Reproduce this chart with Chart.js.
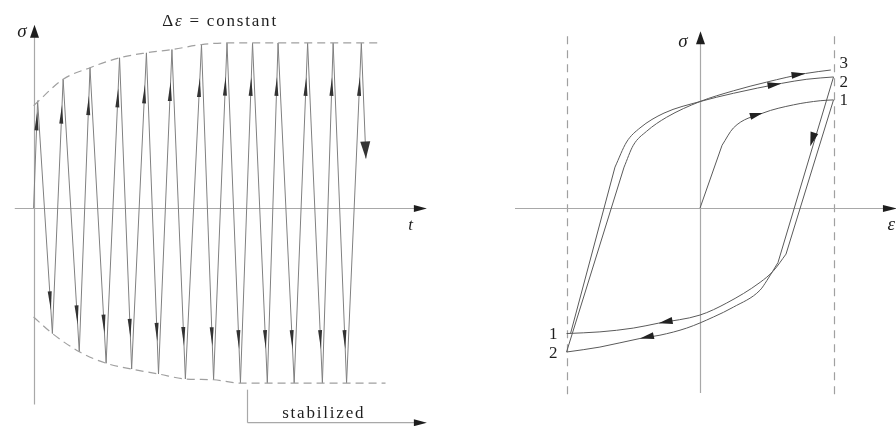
<!DOCTYPE html>
<html>
<head>
<meta charset="utf-8">
<script src="https://cdn.jsdelivr.net/npm/chart.js@4/dist/chart.umd.min.js"></script>
<style>
  html, body { margin: 0; background: #fff; }
  #wrap { position: relative; width: 896px; height: 426px; overflow: hidden; }
  canvas { position: absolute; top: 0; }
  #cycleChart { left: 0; }
  #loopChart { left: 450px; }
</style>
</head>
<body>
<div id="wrap">
  <canvas id="cycleChart" width="450" height="426"></canvas>
  <canvas id="loopChart" width="446" height="426"></canvas>
</div>
<script>
// stress peaks / troughs over time (cycles), strain range held constant
const peakTimes    = [0.15, 1.1, 2.1, 3.2, 4.2, 5.15, 6.25, 7.2, 8.15, 9.1, 10.2, 11.15, 12.2];
const peakStress   = [65, 78, 85, 91, 94, 96, 99, 100, 100, 100, 100, 100, 100];
const troughTimes  = [0.7, 1.7, 2.7, 3.65, 4.65, 5.65, 6.7, 7.7, 8.7, 9.7, 10.75, 11.65];
const troughStress = [-76, -87, -94, -97.5, -100.5, -103.5, -104, -106, -106, -106, -106, -106];
const endTime = 12.37;
const endStress = 30;

// dashed envelopes of the peaks
const upperEnvTime   = [0, 1.1, 2.1, 3.2, 4.2, 5.15, 6.25, 7.2, 12.8];
const upperEnvStress = [62, 78, 85, 91, 94, 96, 99, 100, 100];
const lowerEnvTime   = [0, 0.7, 1.7, 2.7, 3.65, 4.65, 5.65, 6.7, 7.7, 13.1];
const lowerEnvStress = [-66, -76, -87, -94, -97.5, -100.5, -103.5, -104, -106, -106];
const stableFrom = 7.94;

// hysteresis loops (strain normalised to the +/- strain limit)
// each branch = straight elastic part + curved plastic part
const initLineStrain    = [0, 0.165];
const initLineStress    = [0, 38];
const initCurveStrain   = [0.165, 0.25, 0.47, 0.7, 0.9, 1.0];
const initCurveStress   = [38, 48.5, 57.5, 62.5, 65, 65.5];

const unload1LineStrain  = [1.0, 0.644];
const unload1LineStress  = [65.5, -27.9];
const unload1CurveStrain = [0.644, 0.55, 0.45, 0.2, 0, -0.31, -0.5, -0.75, -1.0];
const unload1CurveStress = [-27.9, -38, -45, -57.5, -64.8, -69.7, -72.7, -75, -76];

const reload1LineStrain  = [-0.97, -0.637];
const reload1LineStress  = [-76, 24.8];
const reload1CurveStrain = [-0.637, -0.55, -0.45, -0.27, 0, 0.25, 0.61, 0.8, 1.0];
const reload1CurveStress = [24.8, 40, 48.5, 57.5, 64.5, 69.5, 75.5, 78, 79.4];

const unload2LineStrain  = [1.0, 0.584];
const unload2LineStress  = [79.4, -33];
const unload2CurveStrain = [0.584, 0.5, 0.45, 0.25, 0.1, -0.1, -0.3, -0.45, -0.75, -1.0];
const unload2CurveStress = [-33, -44, -49.7, -60, -66, -72.7, -77, -79, -84.2, -87.2];

const reload2LineStrain  = [-1.0, -0.569];
const reload2LineStress  = [-87.2, 24.8];
const reload2CurveStrain = [-0.569, -0.5, -0.4, -0.25, 0, 0.25, 0.5, 0.79, 0.98];
const reload2CurveStress = [24.8, 38, 46.5, 55, 64.5, 71, 76.3, 81.5, 83.6];

const strainLimits = [-1, 1];
const topLabels = ['1', '2', '3'];
const bottomLabels = ['1', '2'];

const LINE = '#808080';
const LOOP = '#5a5a5a';
const AXIS = '#a8a8a8';
const DASH = '#a0a0a0';
const INK = '#1e1e1e';
const SERIF = '"Liberation Serif", "DejaVu Serif", serif';

const pairs = (xs, ys) => xs.map((v, i) => ({ x: v, y: ys[i] }));
const last = arr => arr[arr.length - 1];

function arrowHead(ctx, x, y, ang, len, half, color) {
  ctx.save();
  ctx.translate(x, y);
  ctx.rotate(ang);
  ctx.beginPath();
  ctx.moveTo(0, 0);
  ctx.lineTo(-len, -half);
  ctx.lineTo(-len, half);
  ctx.closePath();
  ctx.fillStyle = color || INK;
  ctx.fill();
  ctx.restore();
}

function seg(ctx, x1, y1, x2, y2) {
  ctx.beginPath();
  ctx.moveTo(x1, y1);
  ctx.lineTo(x2, y2);
  ctx.stroke();
}

// arrowheads along datasets: [index, fraction toward next point, length, half width, dx, dy]
function pathArrows(chart) {
  const ctx = chart.ctx;
  chart.data.datasets.forEach((ds, di) => {
    if (!ds.arrows) return;
    const pts = chart.getDatasetMeta(di).data;
    ds.arrows.forEach(([i, f, len, half, dx, dy]) => {
      const a = pts[i], b = pts[i + 1];
      const px = a.x + (b.x - a.x) * f + (dx || 0);
      const py = a.y + (b.y - a.y) * f + (dy || 0);
      arrowHead(ctx, px, py, Math.atan2(b.y - a.y, b.x - a.x), len, half, ds.arrowColor);
    });
  });
}

function text(ctx, str, x, y, font, align, spacing) {
  ctx.font = font;
  ctx.textAlign = align || 'left';
  ctx.textBaseline = 'alphabetic';
  ctx.fillStyle = INK;
  ctx.letterSpacing = (spacing || 0) + 'px';
  ctx.fillText(str, x, y);
  ctx.letterSpacing = '0px';
}

const bareScales = (xmin, xmax) => ({
  x: { type: 'linear', display: false, min: xmin, max: xmax },
  y: { type: 'linear', display: false, min: -132, max: 126 }
});

const baseOptions = {
  responsive: false,
  animation: false,
  layout: { padding: 0 },
  plugins: { legend: { display: false }, tooltip: { enabled: false } },
  elements: { point: { radius: 0 } }
};

// ---- stress vs time ----
const wave = [{ x: 0, y: 0 }];
peakTimes.forEach((t, i) => {
  wave.push({ x: t, y: peakStress[i] });
  if (i < troughTimes.length) wave.push({ x: troughTimes[i], y: troughStress[i] });
});
wave.push({ x: endTime, y: endStress });

const waveArrows = wave.slice(0, -2).map((_, i) => [i, 0.9, 19, 2]);
waveArrows.push([wave.length - 2, 1, 17, 5]);

const cycleDecor = {
  id: 'cycleDecor',
  beforeDatasetsDraw(chart) {
    const { ctx, scales: { x, y } } = chart;
    ctx.save();
    ctx.strokeStyle = AXIS;
    ctx.lineWidth = 1.2;
    const x0 = Math.round(x.getPixelForValue(0)) + 0.5;
    const y0 = Math.round(y.getPixelForValue(0)) + 0.5;
    seg(ctx, x0, y.getPixelForValue(-119), x0, y.getPixelForValue(105));
    seg(ctx, x.getPixelForValue(-0.7), y0, x.getPixelForValue(14.2), y0);
    // stabilized bracket
    const xs = Math.round(x.getPixelForValue(stableFrom)) + 0.5;
    seg(ctx, xs, y.getPixelForValue(-110), xs, y.getPixelForValue(-130));
    seg(ctx, xs, y.getPixelForValue(-130), x.getPixelForValue(14.2), y.getPixelForValue(-130));
    ctx.restore();
  },
  afterDatasetsDraw(chart) {
    const { ctx, scales: { x, y } } = chart;
    pathArrows(chart);
    const x0 = Math.round(x.getPixelForValue(0)) + 0.5;
    const y0 = Math.round(y.getPixelForValue(0)) + 0.5;
    arrowHead(ctx, x0, y.getPixelForValue(111), -Math.PI / 2, 13, 4.5);
    arrowHead(ctx, x.getPixelForValue(14.64), y0, 0, 13, 3.5);
    arrowHead(ctx, x.getPixelForValue(14.64), y.getPixelForValue(-130), 0, 13, 3.5);

    text(ctx, '\u03c3', x0 - 8, y.getPixelForValue(103.5), 'italic 19px ' + SERIF, 'right');
    text(ctx, 't', x.getPixelForValue(13.95), y.getPixelForValue(-13.5), 'italic 17px ' + SERIF, 'left');

    // title: Δε = constant
    ctx.font = '17px ' + SERIF;
    ctx.letterSpacing = '1.8px';
    const wD = ctx.measureText('\u0394').width;
    const wRest = ctx.measureText(' = constant').width;
    ctx.font = 'italic 17px ' + SERIF;
    const wE = ctx.measureText('\u03b5').width;
    ctx.letterSpacing = '0px';
    const left = x.getPixelForValue(6.94) - (wD + wE + wRest) / 2;
    const base = y.getPixelForValue(110.5);
    text(ctx, '\u0394', left, base, '17px ' + SERIF, 'left', 1.8);
    text(ctx, '\u03b5', left + wD, base, 'italic 17px ' + SERIF, 'left', 1.8);
    text(ctx, ' = constant', left + wD + wE, base, '17px ' + SERIF, 'left', 1.8);

    text(ctx, 'stabilized', x.getPixelForValue(10.8), y.getPixelForValue(-127), '17px ' + SERIF, 'center', 1.8);
  }
};

new Chart(document.getElementById('cycleChart'), {
  type: 'scatter',
  data: {
    datasets: [
      {
        data: pairs(upperEnvTime, upperEnvStress), showLine: true,
        borderColor: DASH, borderWidth: 1.2, borderDash: [8, 5], cubicInterpolationMode: 'monotone'
      },
      {
        data: pairs(lowerEnvTime, lowerEnvStress), showLine: true,
        borderColor: DASH, borderWidth: 1.2, borderDash: [8, 5], cubicInterpolationMode: 'monotone'
      },
      {
        data: wave, showLine: true, borderColor: LINE, borderWidth: 1, tension: 0,
        arrows: waveArrows, arrowColor: '#333'
      }
    ]
  },
  options: { ...baseOptions, scales: bareScales(-1.25, 15.5) },
  plugins: [cycleDecor]
});

// ---- stress vs strain ----
const loopDecor = {
  id: 'loopDecor',
  beforeDatasetsDraw(chart) {
    const { ctx, scales: { x, y } } = chart;
    ctx.save();
    ctx.lineWidth = 1.2;
    ctx.strokeStyle = DASH;
    ctx.setLineDash([8, 6]);
    strainLimits.forEach(e => {
      const px = Math.round(x.getPixelForValue(e)) + 0.5;
      seg(ctx, px, y.getPixelForValue(104), px, y.getPixelForValue(-116));
    });
    ctx.setLineDash([]);
    ctx.strokeStyle = AXIS;
    const x0 = Math.round(x.getPixelForValue(0)) + 0.5;
    const y0 = Math.round(y.getPixelForValue(0)) + 0.5;
    seg(ctx, x0, y.getPixelForValue(-112), x0, y.getPixelForValue(100));
    seg(ctx, x.getPixelForValue(-1.386), y0, x.getPixelForValue(1.4), y0);
    ctx.restore();
  },
  afterDatasetsDraw(chart) {
    const { ctx, scales: { x, y } } = chart;
    pathArrows(chart);
    const x0 = Math.round(x.getPixelForValue(0)) + 0.5;
    const y0 = Math.round(y.getPixelForValue(0)) + 0.5;
    arrowHead(ctx, x0, y.getPixelForValue(107), -Math.PI / 2, 13, 4.5);
    arrowHead(ctx, x.getPixelForValue(1.475), y0, 0, 14, 3.5);

    text(ctx, '\u03c3', x0 - 13, y.getPixelForValue(97.5), 'italic 19px ' + SERIF, 'right');
    text(ctx, '\u03b5', x.getPixelForValue(1.405), y.getPixelForValue(-13.5), 'italic 19px ' + SERIF, 'left');

    // cycle numbers at the strain limits
    const tops = [last(initCurveStress), last(reload1CurveStress), last(reload2CurveStress)];
    const topShift = [5, 10, -2];
    const xr = x.getPixelForValue(strainLimits[1]) + 6;
    tops.forEach((s, i) => {
      text(ctx, topLabels[i], xr, y.getPixelForValue(s) + topShift[i], '17px ' + SERIF, 'left');
    });
    const bots = [last(unload1CurveStress), last(unload2CurveStress)];
    const xl = x.getPixelForValue(strainLimits[0]) - 9;
    bots.forEach((s, i) => {
      text(ctx, bottomLabels[i], xl, y.getPixelForValue(s) + 5 + i, '17px ' + SERIF, 'right');
    });
  }
};

const straight = (xs, ys, arrows) => ({
  data: pairs(xs, ys), showLine: true, borderColor: LOOP, borderWidth: 1,
  tension: 0, arrows: arrows, arrowColor: '#222'
});
const curve = (xs, ys, arrows) => ({
  data: pairs(xs, ys), showLine: true, borderColor: LOOP, borderWidth: 1,
  cubicInterpolationMode: 'monotone', arrows: arrows, arrowColor: '#222'
});

new Chart(document.getElementById('loopChart'), {
  type: 'scatter',
  data: {
    datasets: [
      straight(initLineStrain, initLineStress),
      curve(initCurveStrain, initCurveStress, [[2, 0, 13, 3.5]]),
      straight(unload1LineStrain, unload1LineStress, [[0, 0.3, 14, 4, -9, 0]]),
      curve(unload1CurveStrain, unload1CurveStress, [[5, 0, 14, 3.5]]),
      straight(reload1LineStrain, reload1LineStress),
      curve(reload1CurveStrain, reload1CurveStress, [[6, 0, 14, 3.5]]),
      straight(unload2LineStrain, unload2LineStress),
      curve(unload2CurveStrain, unload2CurveStress, [[7, 0, 14, 3.5]]),
      straight(reload2LineStrain, reload2LineStress),
      curve(reload2CurveStrain, reload2CurveStress, [[7, 0, 14, 3.5]])
    ]
  },
  options: { ...baseOptions, scales: bareScales(-1.873, 1.468) },
  plugins: [loopDecor]
});
</script>
</body>
</html>
